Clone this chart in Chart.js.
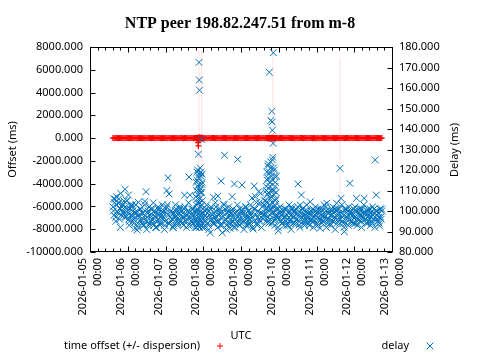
<!DOCTYPE html>
<html><head><meta charset="utf-8">
<script src="https://cdn.jsdelivr.net/npm/chart.js@4/dist/chart.umd.min.js"></script>
<style>html,body{margin:0;padding:0;background:#fff}canvas{display:block}</style>
</head><body>
<canvas id="c" width="480" height="360"></canvas>
<script>
// ---------- data (hours since 2026-01-05 00:00 UTC) ----------
const chartTitle = 'NTP peer 198.82.247.51 from m-8';
const seriesNames = ['time offset (+/- dispersion)', 'delay'];
const xTickDates = ['2026-01-05','2026-01-06','2026-01-07','2026-01-08','2026-01-09','2026-01-10','2026-01-11','2026-01-12','2026-01-13'];
const xTickTimes = ['00:00','00:00','00:00','00:00','00:00','00:00','00:00','00:00','00:00'];

// samples that carry offset, dispersion and delay
const sampleHours = [
 14.6,15.3,16.0,16.7,17.4,18.1,18.8,19.5,20.2,20.9, 21.6,22.3,23.0,23.7,24.4,25.1,25.8,26.5,27.2,27.9,
 28.6,29.3,30.0,30.7,31.4,32.1,32.8,33.5,34.2,34.9, 35.6,36.3,37.0,37.7,38.4,39.1,39.8,40.5,41.2,41.9,
 42.6,43.3,44.0,44.7,45.4,46.1,46.8,47.5,48.2,48.9, 49.6,50.3,51.0,51.7,52.4,53.1,53.8,54.5,55.2,55.9,
 56.6,57.3,58.0,58.7,59.4,60.1,60.8,61.5,62.2,62.9, 63.6,64.3,65.0,65.7,66.4,67.1,
 67.4,67.5,67.7,67.8,68.0,68.1,68.3,68.4,68.6,68.7, 68.9,69.0,69.2,69.3,69.5,69.6,69.8,69.9,70.1,70.2,
 70.4,70.5,70.7,70.8,71.0,71.1,71.3,71.4,71.6,71.8,
 72.2,72.9,73.6,74.3,75.0,75.7,76.4,77.1,77.8,78.5, 79.2,79.9,80.6,81.3,82.0,82.7,83.4,84.1,84.8,85.5,
 86.2,86.9,87.6,88.3,89.0,89.7,90.4,91.1,91.8,92.5, 93.2,93.9,94.6,95.3,96.0,96.7,97.4,98.1,98.8,99.5,
 100.2,100.9,101.6,102.3,103.0,103.7,104.4,105.1,105.8,106.5, 107.2,107.9,108.6,109.3,110.0,110.7,111.4,112.1,
 112.6,112.8,113.0,113.2,113.4,113.6,113.8,114.0,114.2,114.4, 114.6,114.8,115.0,115.2,115.4,115.6,115.8,116.0,116.2,116.4,
 116.6,116.8,117.0,117.2,117.4,117.6,117.8,118.0,118.2,118.4, 118.6,
 119.0,119.7,120.4,121.1,121.8,122.5,123.2,123.9,124.6,125.3, 126.0,126.7,127.4,128.1,128.8,129.5,130.2,130.9,131.6,132.3,
 133.0,133.7,134.4,135.1,135.8,136.5,137.2,137.9,138.6,139.3, 140.0,140.7,141.4,142.1,142.8,143.5,144.2,144.9,145.6,146.3,
 147.0,147.7,148.4,149.1,149.8,150.5,151.2,151.9,152.6,153.3, 154.0,154.7,155.4,156.1,156.8,157.5,158.2,158.9,159.6,160.3,
 161.0,161.7,162.4,163.1,163.8,164.5,165.2,165.9,166.6,167.3, 168.0,168.7,169.4,170.1,170.8,171.5,172.2,172.9,173.6,174.3,
 175.0,175.7,176.4,177.1,177.8,178.5,179.2,179.9,180.6,181.3, 182.0,182.7,183.4,184.1,184.8,185.5
];

const delayMs = [
 102,98,105.7,107,100,103.8,96,108.6,102.1,99, 104.9,110.6,97,101,107.8,95,103,98,100,94,
 91.6,99,90.7,104.2,97,101,95,99,93,104.7, 109.4,97,100,94,98,96,101,93,99,97,
 95,102,98,94,100,96,99,93,101,110, 116.2,108.3,97,95,99,93,98,100,96,94,
 99,101,95,97,93,107.7,98,96,100,116.6, 107.7,95,99,94,97,100,
 95,103,92,110,98,115,104,120,94,108, 127.7,100,113,172.5,163.9,158.9,106,118.4,96,111,
 102,117,93,135,109,99,114,105,92,101,
 99,95,101,97,94,100,89.4,96,98,106.7, 94,100,97,107.3,95,99,114.6,89.4,103.4,127.2,
 96,93,100,97,91.6,99,107,94.8,113.2,93.7, 98,125.2,96,101,94,112.7,99,95,102,97,
 93,100,96,98,106.3,91.2,112.2,107,104.2,97, 109.4,95,108.6,99,96,103,98,110,
 115,97,122,104,109,94,118,167.7,101,112, 96,124,144.2,107,99,148.6,143.4,139.4,126.2,133,
 177.2,110,95,120,103,93,114,100,106,97, 117,
 98,90.4,96,100,94,99,97,101,95,98, 93,100,96,102,97,94,99,101,96,113.2,
 93.2,102.9,107.8,98,95,100,97,94,99,96, 104.5,98,95,100,97,93,99,101,96,91.6,
 98,100,95,97,102,103.8,96,99,94,98, 100,95,97,101,103.8,96,99,120.8,106.2,97,
 94,89.9,100,96,98,102,113.5,95,99,97, 94,100,106.2,96,98,95,101,97,99,106.2,
 96,98,94,100,97,99,95,98,101,124.9, 107.8,96,99,92.7,97,100
];

const offsetMs = [
 4,-3,6,-1,2,-5,3,0,-2,5, 1,-4,3,-1,6,-2,0,4,-3,2,
 -1,5,-4,2,0,-3,4,1,-2,3, -5,2,0,-1,4,-3,1,3,-2,0,
 5,-1,2,-4,1,3,-2,0,4,-3, 2,-1,5,-2,0,3,-4,1,2,-3,
 0,4,-1,2,-5,3,1,-2,4,0, -3,2,1,-4,3,-1,
 -8,12,-15,20,-30,25,-60,40,-35,-400, -690,30,-20,15,-10,45,-35,60,-25,10,
 -15,35,-40,20,-5,15,-30,25,-10,5,
 3,-2,5,-4,1,2,-3,4,0,-1, 3,-5,2,1,-2,4,-3,0,5,-1,
 2,-4,3,1,-2,0,4,-3,2,-1, 5,-2,0,3,-4,1,2,-3,4,0,
 -1,3,-2,5,-4,1,0,2,-3,4, -1,2,-5,3,0,-2,4,1,
 5,-10,15,-20,12,-8,25,-30,18,-12, 10,-25,30,-15,20,-35,40,-20,15,-10,
 25,-5,10,-15,8,-6,12,-4,3,-2, 5,
 2,-3,4,-1,0,3,-2,5,-4,1, 2,-1,3,0,-3,4,-2,1,5,-4,
 0,2,-1,3,-5,1,4,-2,0,3, -1,2,-4,5,0,-3,1,2,-2,4,
 -1,0,3,-4,2,1,-3,5,-2,0, 4,-1,2,-3,1,0,3,-5,2,-1,
 4,-2,0,3,-1,2,-4,1,5,-3, 0,2,-1,4,-2,3,0,-5,1,2,
 -3,4,-1,0,2,-2,5,-4,1,3, 0,-1,2,-3,4,1
];

const dispersionMs = [
 28,31,26,34,30,27,33,29,25,32, 30,28,35,27,31,29,26,33,30,28,
 32,27,30,29,34,26,31,28,33,30, 27,32,29,31,26,34,28,30,27,33,
 29,31,26,32,30,28,35,27,31,29, 33,26,30,28,32,27,31,29,34,30,
 26,33,28,31,27,30,32,29,35,28, 31,27,30,33,29,32,
 40,45,50,60,55,70,80,90,120,300, 350,200,7700,150,140,130,120,110,100,95,
 90,85,80,75,7650,70,65,60,55,50,
 30,27,33,29,31,26,34,28,30,32, 27,31,29,33,26,30,28,35,29,31,
 27,32,30,28,33,29,31,26,34,30, 28,32,27,31,29,30,33,26,32,28,
 30,27,34,29,31,28,33,30,27,32, 29,31,26,33,30,28,32,29,
 60,65,70,80,90,100,110,130,150,170, 180,200,220,240,260,280,300,320,340,7700,
 300,260,220,180,150,120,100,90,80,70, 60,
 29,31,27,33,30,28,32,26,31,29, 30,27,34,28,31,29,33,27,30,32,
 28,31,26,33,29,30,27,32,28,31, 29,33,27,30,31,28,34,26,30,29,
 32,28,31,27,33,29,30,26,31,28, 30,32,27,29,31,28,33,7100,30,27,
 31,29,33,26,30,28,32,29,31,27, 30,33,28,31,26,29,32,30,28,31,
 27,30,33,29,31,28,26,32,30,29, 31,28,30,33,27,29
];

// further delay-only samples (denser polling)
const delayExtraHours = [
 14.9,15.6,16.3,17.0,17.7,18.4,19.1,19.8,20.5,21.2, 21.9,22.6,23.3,24.0,24.7,25.4,26.1,26.8,27.5,28.2,
 28.9,29.6,30.3,31.0,31.7,32.4,33.1,33.8,34.5,35.2, 35.9,36.6,37.3,38.0,38.7,39.4,40.1,40.8,41.5,42.2,
 42.9,43.6,44.3,45.0,45.7,46.4,47.1,47.8,48.5,49.2, 49.9,50.6,51.3,52.0,52.7,53.4,54.1,54.8,55.5,56.2,
 56.9,57.6,58.3,59.0,59.7,60.4,61.1,61.8,62.5,63.2, 63.9,64.6,65.3,66.0,66.7,
 72.5,73.2,73.9,74.6,75.3,76.0,76.7,77.4,78.1,78.8, 79.5,80.2,80.9,81.6,82.3,83.0,83.7,84.4,85.1,85.8,
 86.5,87.2,87.9,88.6,89.3,90.0,90.7,91.4,92.1,92.8, 93.5,94.2,94.9,95.6,96.3,97.0,97.7,98.4,99.1,99.8,
 100.5,101.2,101.9,102.6,103.3,104.0,104.7,105.4,106.1,106.8, 107.5,108.2,108.9,109.6,110.3,111.0,111.7,
 119.3,120.0,120.7,121.4,122.1,122.8,123.5,124.2,124.9,125.6, 126.3,127.0,127.7,128.4,129.1,129.8,130.5,131.2,131.9,132.6,
 133.3,134.0,134.7,135.4,136.1,136.8,137.5,138.2,138.9,139.6, 140.3,141.0,141.7,142.4,143.1,143.8,144.5,145.2,145.9,146.6,
 147.3,148.0,148.7,149.4,150.1,150.8,151.5,152.2,152.9,153.6, 154.3,155.0,155.7,156.4,157.1,157.8,158.5,159.2,159.9,160.6,
 161.3,162.0,162.7,163.4,164.1,164.8,165.5,166.2,166.9,167.6, 168.3,169.0,169.7,170.4,171.1,171.8,172.5,173.2,173.9,174.6,
 175.3,176.0,176.7,177.4,178.1,178.8,179.5,180.2,180.9,181.6, 182.3,183.0,183.7,184.4,185.1,
 15.1,16.5,17.9,19.3,20.7,22.1,23.5,24.9,26.3,27.7, 29.1,30.5,31.9,33.3,34.7,36.1,37.5,38.9,40.3,41.7,
 43.1,44.5,45.9,47.3,48.7,50.1,51.5,52.9,54.3,55.7, 57.1,58.5,59.9,61.3,62.7,64.1,65.5,66.9,
 72.7,74.1,75.5,76.9,78.3,79.7,81.1,82.5,83.9,85.3, 86.7,88.1,89.5,90.9,92.3,93.7,95.1,96.5,97.9,99.3,
 100.7,102.1,103.5,104.9,106.3,107.7,109.1,110.5,111.9,
 119.5,120.9,122.3,123.7,125.1,126.5,127.9,129.3,130.7,132.1, 133.5,134.9,136.3,137.7,139.1,140.5,141.9,143.3,144.7,146.1,
 147.5,148.9,150.3,151.7,153.1,154.5,155.9,157.3,158.7,160.1, 161.5,162.9,164.3,165.7,167.1,168.5,169.9,171.3,172.7,174.1,
 175.5,176.9,178.3,179.7,181.1,182.5,183.9,185.3,
 67.35,67.65,67.95,68.25,68.55,68.85,69.15,69.45,69.75,70.05, 70.35,70.65,70.95,71.25,71.55,
 67.55,67.85,68.45,68.95,69.55,69.85,70.45,70.75,71.05,71.35,
 111.2,111.6,112.0,112.4,112.7,112.9,113.1,113.3,113.5,113.7, 113.9,114.1,114.3,114.5,114.7,114.9,115.1,115.3,115.5,115.7,
 115.9,116.1,116.3,116.5,116.7,116.9,117.1,117.3,117.5,117.7, 117.9,118.1,118.3,118.5
];

const delayExtraMs = [
 100,104,97,103,99,106,101,98,103,100, 97,102,105,99,96,101,98,103,95,99,
 97,100,94,98,101,96,99,93,97,100, 95,99,93,98,101,96,94,100,97,92,
 99,96,101,94,98,97,100,95,99,103, 98,94,100,96,92,99,97,101,95,98,
 96,100,94,99,97,102,95,98,93,99, 97,101,95,98,96,
 97,100,95,99,93,98,101,96,94,99, 97,102,95,98,100,93,97,99,95,101,
 96,99,94,98,100,95,97,92,99,96, 100,94,98,96,99,101,95,97,93,98,
 100,96,94,99,97,101,95,98,94,100, 96,99,97,102,98,105,101,
 101,97,99,95,98,100,93,97,101,96, 99,95,98,101,94,97,100,96,99,98,
 95,99,97,101,94,98,96,100,97,93, 99,96,101,95,98,100,94,97,99,96,
 101,95,98,97,100,94,99,96,98,101, 95,99,97,100,94,98,101,96,99,95,
 98,101,94,97,100,96,99,95,98,101, 97,94,100,96,99,98,95,101,97,99,
 96,100,95,98,101,97,94,99,96,100, 98,95,97,101,96,
 106,95,104,92,103,99,105,93,102,96, 103,92,101,94,103,91,102,95,104,92,
 101,93,103,91,102,94,100,92,103,93, 102,94,101,92,104,93,101,92,
 92,103,91,102,94,104,92,101,93,103, 91,102,94,101,92,103,93,100,91,102,
 94,103,92,101,93,104,92,103,95,
 92,102,94,101,93,103,91,100,94,102, 92,101,93,103,94,100,92,102,93,101,
 94,103,92,100,93,102,91,101,94,103, 92,101,93,100,94,102,93,101,92,103,
 94,101,93,102,92,100,94,101,
 107,96,119,101,112,93,116,104,98,121, 109,95,103,118,99,
 114,100,106,117,92,110,119,97,113,94,
 99,105,112,119,101,108,116,95,123,111, 103,119,98,114,106,121,101,117,94,110,
 125,104,115,99,121,108,102,117,96,112, 105,98,109,101
];

// ---------- styling ----------
const SANS = 'Noto Sans';
Chart.defaults.font.family = SANS;
Chart.defaults.font.size = 11;
Chart.defaults.color = '#000';
const RED = '#ff0000';
const BLUE = '#0072bd';

const delayPts = sampleHours.map((h, i) => ({x: h, y: delayMs[i]}))
  .concat(delayExtraHours.map((h, i) => ({x: h, y: delayExtraMs[i]})));
const offsetPts = sampleHours.map((h, i) => ({x: h, y: offsetMs[i]}));
const errPts = [];
sampleHours.forEach((h, i) => {
  errPts.push({x: h, y: offsetMs[i] - dispersionMs[i]}, {x: h, y: offsetMs[i] + dispersionMs[i]}, {x: h, y: null});
});

function drawMarker(ctx, style, x, y, r, color) {
  ctx.save();
  ctx.strokeStyle = color; ctx.lineWidth = 1;
  ctx.beginPath();
  if (style === 'cross') {
    ctx.moveTo(x - r, y); ctx.lineTo(x + r, y);
    ctx.moveTo(x, y - r); ctx.lineTo(x, y + r);
  } else {
    const d = r * Math.SQRT1_2;
    ctx.moveTo(x - d, y - d); ctx.lineTo(x + d, y + d);
    ctx.moveTo(x - d, y + d); ctx.lineTo(x + d, y - d);
  }
  ctx.stroke();
  ctx.restore();
}

const frameTicks = {
  id: 'frameTicks',
  afterDatasetsDraw(chart) {
    const {ctx, chartArea: a, scales} = chart;
    const L = Math.round(a.left) + 0.5, R = Math.round(a.right) + 0.5;
    const T = Math.round(a.top) + 0.5, B = Math.round(a.bottom) - 0.5;
    ctx.save();
    ctx.strokeStyle = '#000'; ctx.lineWidth = 1;
    ctx.beginPath();
    const seg = (x1, y1, x2, y2) => { ctx.moveTo(x1, y1); ctx.lineTo(x2, y2); };
    const xs = scales.x, xv = xs.ticks.map(t => t.value);
    const nMinor = 5;
    xv.forEach((v, i) => {
      const p = Math.round(xs.getPixelForValue(v)) + 0.5;
      seg(p, B, p, B - 5); seg(p, T, p, T + 5);
      if (i < xv.length - 1) {
        const st = xv[i + 1] - v;
        for (let k = 1; k < nMinor; k++) {
          const q = Math.round(xs.getPixelForValue(v + st * k / nMinor)) + 0.5;
          seg(q, B, q, B - 3); seg(q, T, q, T + 3);
        }
      }
    });
    scales.y.ticks.forEach(t => {
      const p = Math.round(scales.y.getPixelForValue(t.value)) + 0.5;
      seg(L, p, L + 5, p);
    });
    scales.y2.ticks.forEach(t => {
      const p = Math.round(scales.y2.getPixelForValue(t.value)) + 0.5;
      seg(R, p, R - 5, p);
    });
    ctx.stroke();
    ctx.strokeRect(L, T, R - L, B - T);
    ctx.restore();
  }
};

const gpKey = {
  id: 'gpKey',
  afterDraw(chart) {
    const ctx = chart.ctx;
    ctx.save();
    ctx.font = '11px "' + SANS + '"';
    ctx.fillStyle = '#000';
    ctx.textAlign = 'right';
    ctx.textBaseline = 'middle';
    const slots = [{tx: 200, sx: 220, y: 346}, {tx: 409, sx: 430, y: 346}];
    const marks = [['cross', 3, RED], ['crossRot', 4.8, BLUE]];
    seriesNames.forEach((name, i) => {
      ctx.fillText(name, slots[i].tx, slots[i].y);
      drawMarker(ctx, marks[i][0], slots[i].sx, slots[i].y, marks[i][1], marks[i][2]);
    });
    ctx.translate(455, 150);
    ctx.rotate(-Math.PI / 2);
    ctx.textAlign = 'center';
    ctx.fillText('Delay (ms)', 0, 0);
    ctx.restore();
  }
};

new Chart(document.getElementById('c'), {
  type: 'scatter',
  data: {
    datasets: [
      {label: seriesNames[1], data: delayPts, yAxisID: 'y2', order: 1,
       pointStyle: 'crossRot', pointRadius: 4.8, borderWidth: 1, borderColor: BLUE, backgroundColor: BLUE},
      {label: seriesNames[0], data: offsetPts, yAxisID: 'y', order: 2,
       pointStyle: 'cross', pointRadius: 3, borderWidth: 1.2, borderColor: RED, backgroundColor: RED},
      {label: 'dispersion', data: errPts, yAxisID: 'y', order: 3, showLine: true, spanGaps: false,
       pointRadius: 0, borderWidth: 1, borderColor: 'rgba(255,0,0,0.14)', backgroundColor: 'rgba(0,0,0,0)'}
    ]
  },
  options: {
    responsive: false,
    animation: false,
    events: [],
    devicePixelRatio: 1,
    layout: {padding: 0},
    plugins: {
      legend: {display: false},
      tooltip: {enabled: false},
      title: {display: true, text: chartTitle, color: '#000',
              font: {family: 'Liberation Serif', size: 16, weight: 'bold'},
              padding: {top: 14.4, bottom: 13.4}}
    },
    scales: {
      x: {
        type: 'linear', position: 'bottom', min: 0, max: 192,
        grid: {display: false, drawTicks: false, tickLength: 0}, border: {display: false},
        ticks: {stepSize: 24, autoSkip: false, maxRotation: 90, minRotation: 90, padding: 6,
                labelOffset: -7, font: {size: 11, lineHeight: 15 / 11},
                callback: v => { const i = Math.round(v / 24); return [xTickDates[i], xTickTimes[i]]; }},
        title: {display: true, text: 'UTC', font: {size: 11}, padding: {top: 0, bottom: 18}},
        afterFit: s => { s.height = 108; }
      },
      y: {
        type: 'linear', position: 'left', min: -10000, max: 8000,
        grid: {display: false, drawTicks: false, tickLength: 0}, border: {display: false},
        ticks: {stepSize: 2000, padding: 7, callback: v => Number(v).toFixed(3)},
        title: {display: true, text: 'Offset (ms)', font: {size: 11}, padding: {top: 6, bottom: 0}},
        afterFit: s => { s.width = 90; }
      },
      y2: {
        type: 'linear', position: 'right', min: 80, max: 180,
        grid: {display: false, drawTicks: false, tickLength: 0}, border: {display: false},
        ticks: {stepSize: 10, padding: 7, callback: v => Number(v).toFixed(3)},
        afterFit: s => { s.width = 88; }
      }
    }
  },
  plugins: [frameTicks, gpKey]
});
</script>
</body></html>
